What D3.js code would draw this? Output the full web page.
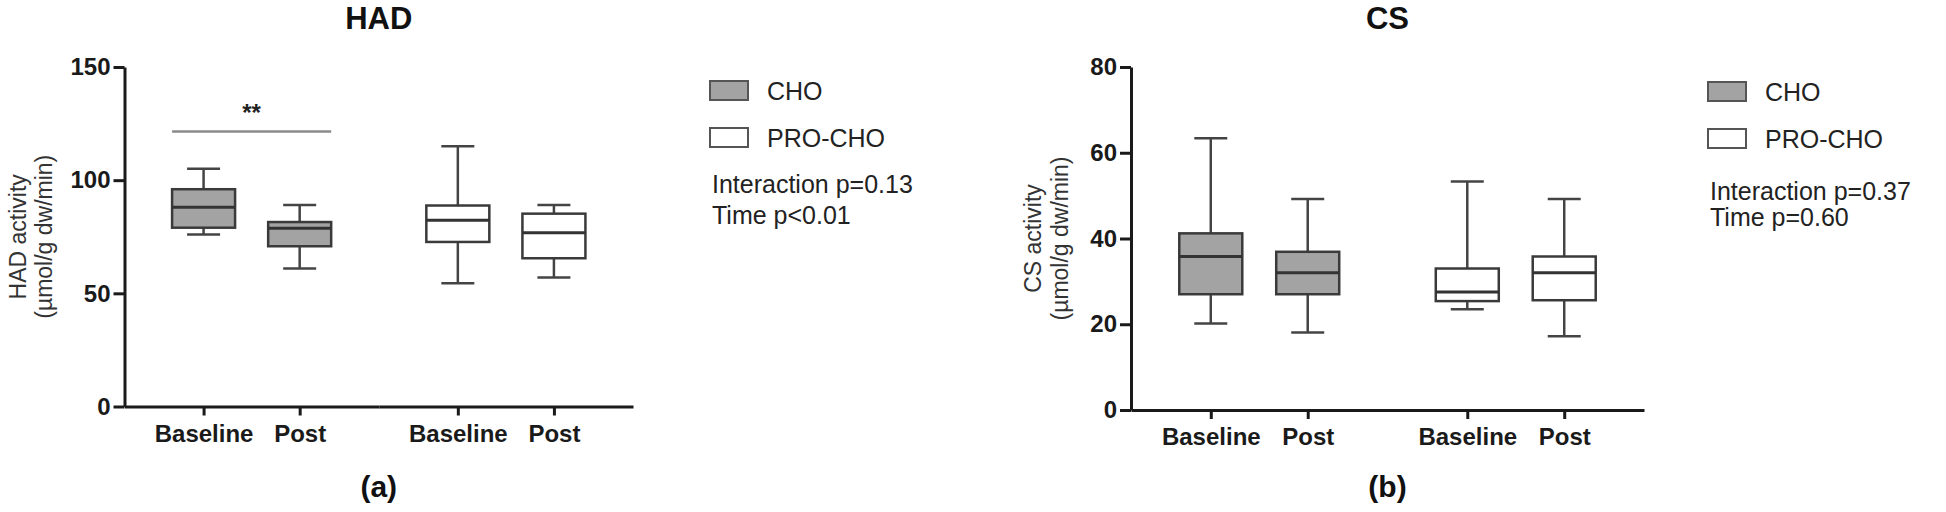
<!DOCTYPE html>
<html>
<head>
<meta charset="utf-8">
<style>
    body { margin: 0; background: #fff; }
    svg { display: block; font-family: "Liberation Sans", Arial, sans-serif; }
    .tick text { fill: #1a1a1a; font-weight: bold; font-size: 24px; }
    .axis path, .axis line { stroke: #1a1a1a; stroke-width: 3; }
</style>
</head>
<body>
<svg width="1946" height="512"></svg>
<script src="https://cdn.jsdelivr.net/npm/d3@7"></script>
<script>
    // categories
    var groups = ["CHO", "PRO-CHO"]
    var times = ["Baseline", "Post"]

    // box order: CHO Baseline, CHO Post, PRO-CHO Baseline, PRO-CHO Post
    var hadMin = [76, 61, 54.5, 57]
    var hadQ1 = [79, 70.8, 72.7, 65.5]
    var hadMed = [88, 78.8, 82.3, 76.8]
    var hadQ3 = [96, 81.5, 88.8, 85.2]
    var hadMax = [105, 89, 115, 89]

    var csMin = [20.2, 18.1, 23.5, 17.2]
    var csQ1 = [27, 27, 25.4, 25.6]
    var csMed = [35.8, 32, 27.5, 32]
    var csQ3 = [41.2, 36.9, 33, 35.8]
    var csMax = [63.4, 49.2, 53.3, 49.2]

    var hadTicks = [0, 50, 100, 150]
    var csTicks = [0, 20, 40, 60, 80]

    var hadStats = ["Interaction p=0.13", "Time p<0.01"]
    var csStats = ["Interaction p=0.37", "Time p=0.60"]

    var fills = { "CHO": "#a3a3a3", "PRO-CHO": "#ffffff" }

    var svg = d3.select("svg")
    svg.append("rect").attr("width", 1946).attr("height", 512).attr("fill", "#fff")

    function makeBoxes(mins, q1s, meds, q3s, maxs) {
        var out = []
        var k = 0
        groups.forEach(function (g) {
            times.forEach(function (t) {
                out.push({ group: g, time: t, min: mins[k], q1: q1s[k], med: meds[k], q3: q3s[k], max: maxs[k] })
                k++
            })
        })
        return out
    }

    function drawPanel(p) {
        var y = d3.scaleLinear().domain([0, p.ymax]).range([p.bottom, p.top])
        var outer = d3.scaleBand().domain(groups).range([p.left, p.right])
        var inner = d3.scalePoint().domain(times).range([0, outer.bandwidth()]).padding(0.823)
        var cx = function (d) { return outer(d.group) + inner(d.time) }
        var boxW = 63, capW = 33

        var g = svg.append("g")

        // title
        g.append("text")
            .attr("x", (p.left + p.right) / 2).attr("y", 29)
            .attr("text-anchor", "middle")
            .attr("font-weight", "bold").attr("font-size", 31).attr("fill", "#111")
            .text(p.title)

        // panel letter
        g.append("text")
            .attr("x", (p.left + p.right) / 2).attr("y", 497)
            .attr("text-anchor", "middle")
            .attr("font-weight", "bold").attr("font-size", 30).attr("fill", "#111")
            .text(p.letter)

        // y axis
        g.append("g").attr("class", "axis")
            .attr("transform", "translate(" + p.left + ",0)")
            .call(d3.axisLeft(y).tickValues(p.ticks).tickSize(11).tickSizeOuter(0).tickPadding(3))

        // x axis, one piece per group
        groups.forEach(function (grp) {
            g.append("g").attr("class", "axis")
                .attr("transform", "translate(" + outer(grp) + "," + p.bottom + ")")
                .call(d3.axisBottom(inner).tickSize(9).tickSizeOuter(0).tickPadding(9))
        })

        // y label
        var ymid = (p.top + p.bottom) / 2
        p.ylab.forEach(function (s, i) {
            g.append("text")
                .attr("transform", "translate(" + p.ylabX[i] + "," + ymid + ") rotate(-90)")
                .attr("text-anchor", "middle").attr("dominant-baseline", "central")
                .attr("font-size", 23).attr("fill", "#333")
                .text(s)
        })

        var box = g.selectAll(".box").data(p.data).enter().append("g")

        // whiskers
        box.append("line")
            .attr("x1", cx).attr("x2", cx)
            .attr("y1", function (d) { return y(d.max) }).attr("y2", function (d) { return y(d.min) })
            .attr("stroke", "#444").attr("stroke-width", 2.5)
        box.selectAll(".cap").data(function (d) { return [d.min, d.max].map(function (v) { return { v: v, d: d } }) })
            .enter().append("line")
            .attr("x1", function (c) { return cx(c.d) - capW / 2 }).attr("x2", function (c) { return cx(c.d) + capW / 2 })
            .attr("y1", function (c) { return y(c.v) }).attr("y2", function (c) { return y(c.v) })
            .attr("stroke", "#444").attr("stroke-width", 2.5)

        // box
        box.append("rect")
            .attr("x", function (d) { return cx(d) - boxW / 2 })
            .attr("y", function (d) { return y(d.q3) })
            .attr("width", boxW)
            .attr("height", function (d) { return y(d.q1) - y(d.q3) })
            .attr("fill", function (d) { return fills[d.group] })
            .attr("stroke", "#3a3a3a").attr("stroke-width", 2.5)

        // median
        box.append("line")
            .attr("x1", function (d) { return cx(d) - boxW / 2 }).attr("x2", function (d) { return cx(d) + boxW / 2 })
            .attr("y1", function (d) { return y(d.med) }).attr("y2", function (d) { return y(d.med) })
            .attr("stroke", "#333").attr("stroke-width", 3)

        // legend
        groups.forEach(function (grp, i) {
            var by = p.legTop + i * 47
            g.append("rect")
                .attr("x", p.legX).attr("y", by).attr("width", 38).attr("height", 19)
                .attr("fill", fills[grp]).attr("stroke", "#555").attr("stroke-width", 2)
            g.append("text")
                .attr("x", p.legX + 57).attr("y", by + 19)
                .attr("font-size", 25).attr("fill", "#222")
                .text(grp)
        })
        p.stats.forEach(function (s, i) {
            g.append("text")
                .attr("x", p.legX + 2).attr("y", p.statY[i])
                .attr("font-size", 25).attr("fill", "#222")
                .text(s)
        })

        return { y: y, cx: cx, data: p.data, g: g }
    }

    var had = drawPanel({
        title: "HAD", letter: "(a)",
        left: 124.5, right: 633, top: 67, bottom: 406.5,
        ymax: 150, ticks: hadTicks,
        ylab: ["HAD activity", "(µmol/g dw/min)"], ylabX: [18, 44],
        data: makeBoxes(hadMin, hadQ1, hadMed, hadQ3, hadMax),
        legX: 710, legTop: 81, stats: hadStats, statY: [193, 224]
    })

    drawPanel({
        title: "CS", letter: "(b)",
        left: 1131, right: 1644, top: 67, bottom: 410,
        ymax: 80, ticks: csTicks,
        ylab: ["CS activity", "(µmol/g dw/min)"], ylabX: [1033, 1060],
        data: makeBoxes(csMin, csQ1, csMed, csQ3, csMax),
        legX: 1708, legTop: 82, stats: csStats, statY: [200, 226]
    })

    // significance bar over CHO baseline vs post in HAD
    var sigLevel = 121.5
    var a = had.data[0], b = had.data[1]
    had.g.append("line")
        .attr("x1", had.cx(a) - 31.5).attr("x2", had.cx(b) + 31.5)
        .attr("y1", had.y(sigLevel)).attr("y2", had.y(sigLevel))
        .attr("stroke", "#8a8a8a").attr("stroke-width", 2.5)
    had.g.append("text")
        .attr("x", (had.cx(a) + had.cx(b)) / 2).attr("y", had.y(sigLevel) - 11)
        .attr("text-anchor", "middle")
        .attr("font-weight", "bold").attr("font-size", 24).attr("fill", "#222")
        .text("**")
</script>
</body>
</html>
